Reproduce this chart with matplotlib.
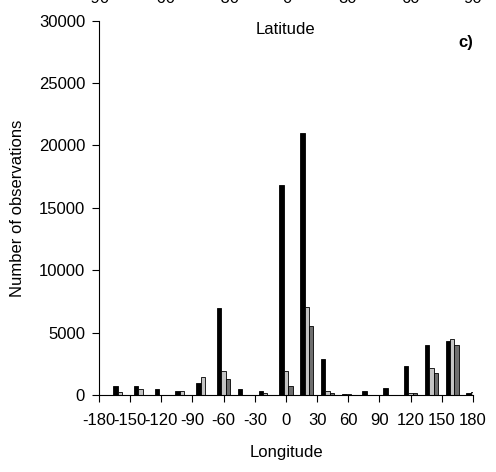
import matplotlib
matplotlib.use("Agg")
import matplotlib.pyplot as plt
import numpy as np

plt.rcParams['font.family'] = ['Liberation Sans', 'DejaVu Sans']

# longitude bin centres (20 degree bins)
lon_centres = [-160, -140, -120, -100, -80, -60, -40, -20, 0, 20, 40, 60, 80, 100, 120, 140, 160, 180]
series_black = [720, 700, 510, 340, 1000, 6950, 450, 320, 16840, 21000, 2880, 100, 300, 540, 2320, 3970, 4320, 130]
series_light = [270, 450, 0, 340, 1440, 1950, 0, 160, 1900, 7050, 300, 60, 0, 0, 190, 2190, 4510, 270]
series_dark = [0, 0, 0, 0, 0, 1280, 0, 0, 720, 5550, 190, 0, 0, 0, 150, 1790, 4030, 0]
xticks = list(range(-180, 181, 30))
yticks = list(range(0, 30001, 5000))
top_labels = ['-90', '-60', '-30', '0', '30', '60', '90']

fig = plt.figure(figsize=(4.96, 4.72), dpi=100)
ax = fig.add_axes([0.1996, 0.1631, 0.7540, 0.7930])

x = np.array(lon_centres, dtype=float)
w = 4.3
ax.bar(x - w, series_black, width=w, color='black', edgecolor='black', linewidth=0.6)
ax.bar(x, series_light, width=w, color='#c4c4c4', edgecolor='black', linewidth=0.6)
ax.bar(x + w, series_dark, width=w, color='#6e6e6e', edgecolor='black', linewidth=0.6)

ax.set_xlim(-180, 180)
ax.set_ylim(0, 30000)
ax.set_xticks(xticks)
ax.set_xticklabels([str(t) for t in xticks])
ax.set_yticks(yticks)
ax.spines['top'].set_visible(False)
ax.spines['right'].set_visible(False)
ax.tick_params(direction='out', length=5, width=0.8, labelsize=12, pad=5)
ax.tick_params(axis='x', pad=8)
ax.set_xlabel('Longitude', fontsize=12, labelpad=12)
ax.set_ylabel('Number of observations', fontsize=12, labelpad=10)

fig.text(285 / 496, 1 - 30 / 472, 'Latitude', ha='center', va='center', fontsize=12)
fig.text(473 / 496, 1 - 42 / 472, 'c)', ha='right', va='center', fontsize=12, fontweight='bold')

# clipped tick labels of the panel above
top_x = [97, 163, 227, 287, 348, 410, 473]
for px, lab in zip(top_x, top_labels):
    fig.text(px / 496, 1 - 3 / 472, lab, ha='center', va='baseline', fontsize=12)

fig.savefig('out.png', dpi=100)
